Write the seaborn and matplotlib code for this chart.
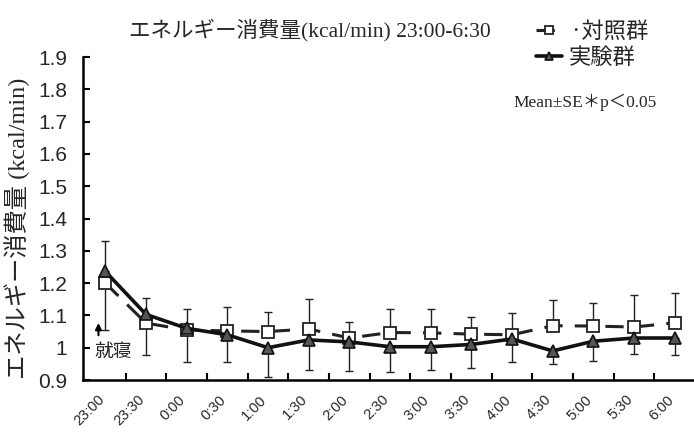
import matplotlib
matplotlib.use('Agg')
import matplotlib.pyplot as plt
from matplotlib.ticker import FixedLocator, FormatStrFormatter
from matplotlib.transforms import ScaledTranslation
import numpy as np
import pandas as pd
import seaborn as sns

# time points (30 min steps)
times = ['23:00', '23:30', '0:00', '0:30', '1:00', '1:30', '2:00', '2:30',
         '3:00', '3:30', '4:00', '4:30', '5:00', '5:30', '6:00']
# 対照群 mean and SE (error bars drawn upward)
control = [1.200, 1.076, 1.055, 1.052, 1.050, 1.058, 1.030, 1.047,
           1.046, 1.042, 1.040, 1.068, 1.067, 1.064, 1.077]
control_se = [0.130, 0.078, 0.065, 0.075, 0.060, 0.092, 0.050, 0.073,
              0.074, 0.054, 0.067, 0.080, 0.070, 0.099, 0.093]
# 実験群 mean and SE (error bars drawn downward)
experiment = [1.236, 1.103, 1.060, 1.040, 1.000, 1.024, 1.018, 1.003,
              1.003, 1.010, 1.027, 0.990, 1.020, 1.030, 1.030]
experiment_se = [0.181, 0.126, 0.105, 0.083, 0.090, 0.094, 0.090, 0.078,
                 0.073, 0.072, 0.070, 0.040, 0.060, 0.050, 0.053]
y_ticks = [0.9, 1.0, 1.1, 1.2, 1.3, 1.4, 1.5, 1.6, 1.7, 1.8, 1.9]

sans = ['Liberation Sans Narrow', 'Liberation Sans', 'Noto Sans CJK JP']
serif = ['Liberation Serif', 'Noto Sans CJK JP']
jp = ['Noto Sans CJK JP', 'DejaVu Sans']

sns.set_theme(style='ticks')
plt.rcParams['font.family'] = jp

df = pd.DataFrame({'pos': np.arange(len(times)),
                   'time': times,
                   'control': control,
                   'experiment': experiment})

fig = plt.figure(figsize=(6.94, 4.32), dpi=100)
ax = fig.add_axes([83 / 694, 52 / 432, 614 / 694, 323 / 432])

# error bars
ax.errorbar(df['pos'], df['control'],
            yerr=[np.zeros(len(times)), control_se],
            fmt='none', ecolor='#222222', elinewidth=1, capsize=3, capthick=1, zorder=1)
ax.errorbar(df['pos'], df['experiment'],
            yerr=[experiment_se, np.zeros(len(times))],
            fmt='none', ecolor='#222222', elinewidth=1, capsize=3, capthick=1, zorder=1)

sns.lineplot(data=df, x='pos', y='control', ax=ax, color='#222222',
             linewidth=2.2, linestyle=(0, (6, 4)), marker='s', markersize=8.5,
             markerfacecolor='white', markeredgecolor='#222222', markeredgewidth=1.3,
             label='·対照群', zorder=3)
sns.lineplot(data=df, x='pos', y='experiment', ax=ax, color='#111111',
             linewidth=2.6, marker='^', markersize=8.5,
             markerfacecolor='#555555', markeredgecolor='#111111', markeredgewidth=1.2,
             label='実験群', zorder=4)

ax.set_xlim(-0.55, len(times) - 0.45)
ax.set_ylim(0.9, 1.9)
ax.set_yticks(y_ticks)
ax.yaxis.set_major_formatter(FormatStrFormatter('%g'))
ax.set_xticks(df['pos'])
ax.xaxis.set_minor_locator(FixedLocator(df['pos'][:-1] + 0.5))
ax.tick_params(axis='x', which='major', length=0, pad=9)
ax.tick_params(axis='x', which='minor', direction='in', length=5, width=1.5, color='black')
ax.tick_params(axis='y', direction='in', length=5, width=1.5, color='black',
               labelsize=15, pad=11.5)
ax.set_xticklabels(times, rotation=45, ha='right', rotation_mode='anchor',
                   fontsize=10.5, family=sans)
shift = ScaledTranslation(-6 / 72, 0, fig.dpi_scale_trans)
for t in ax.get_xticklabels():
    t.set_transform(t.get_transform() + shift)
for t in ax.get_yticklabels():
    t.set_family(sans)

for side in ['top', 'right']:
    ax.spines[side].set_visible(False)
for side in ['left', 'bottom']:
    ax.spines[side].set_linewidth(1.8)
    ax.spines[side].set_color('black')

ax.set_xlabel('')
ax.set_ylabel('エネルギー消費量 (kcal/min)', fontsize=17.5, family=serif)
ax.yaxis.set_label_coords(-0.086, 0.47)

fig.text(0.447, 0.93, 'エネルギー消費量(kcal/min) 23:00-6:30', fontsize=15.5,
         family=serif, ha='center', va='center')

ax.text(0.935, 0.86, 'Mean±SE＊p＜0.05', transform=ax.transAxes, fontsize=12.5,
        family=serif, ha='right', va='center')

ax.annotate('', xy=(-0.17, 1.085), xytext=(-0.17, 1.03),
            arrowprops=dict(arrowstyle='-|>', color='black', lw=1.5, mutation_scale=9))
ax.text(-0.26, 0.99, '就寝', fontsize=13.5, ha='left', va='center')

ax.legend_.remove()
handles, labels = ax.get_legend_handles_labels()
fig.legend(handles, labels, loc='upper right', bbox_to_anchor=(0.947, 0.975),
           frameon=False, fontsize=16, handlelength=1.2, handletextpad=0.3,
           labelspacing=0.15, borderaxespad=0, markerscale=0.6)

plt.savefig('out.png', dpi=100)
